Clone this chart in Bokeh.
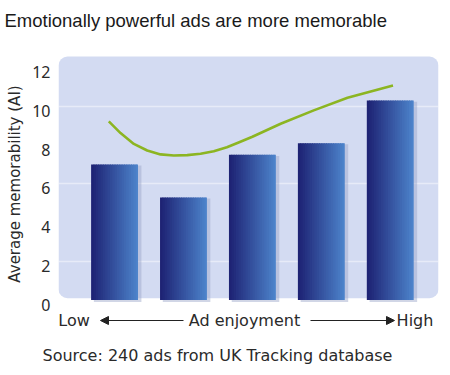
import math
from bokeh.plotting import figure
from bokeh.models import (Range1d, LinearAxis, FixedTicker, BoxAnnotation, Label,
                          Arrow, NormalHead, Title)
from bokeh.embed import file_html
from bokeh.resources import INLINE

# ---------------- data ----------------
categories = ["1", "2", "3", "4", "5"]          # Low -> High ad enjoyment
bar_x = [1, 2, 3, 4, 5]
memorability = [7.0, 5.3, 7.5, 8.1, 10.3]
trend_x = [0.917, 1.087, 1.28, 1.474, 1.667, 1.86, 2.055, 2.248, 2.44, 2.63, 2.80,
           3.00, 3.41, 3.89, 4.38, 5.04]
trend_y = [9.22, 8.62, 8.06, 7.72, 7.52, 7.46, 7.48, 7.55, 7.68, 7.89, 8.13,
           8.43, 9.10, 9.79, 10.44, 11.08]
y_ticks = [0, 2, 4, 6, 8, 10, 12]

title_text = "Emotionally powerful ads are more memorable"
y_label = "Average memorability (AI)"
source_text = "Source:  240 ads from UK Tracking database"
x_words = ["Low", "Ad enjoyment", "High"]

Y0, Y1 = -1.827, 13.81
PANEL_TOP = 12.57

# ---------------- figure ----------------
p = figure(width=450, height=375, output_backend="svg", toolbar_location=None,
           x_range=Range1d(0.187, 5.70), y_range=Range1d(Y0, Y1),
           min_border_left=58, min_border_right=12, min_border_top=32, min_border_bottom=40,
           x_axis_location=None, y_axis_location=None)
p.outline_line_color = None
p.background_fill_color = "white"
p.border_fill_color = "white"
p.xgrid.visible = False

# tick-label axis (labels sit slightly below their grid positions in the original)
p.extra_y_ranges = {"lbl": Range1d(Y0 + 0.24, Y1 + 0.24)}
ax = LinearAxis(y_range_name="lbl", ticker=FixedTicker(ticks=y_ticks))
ax.axis_line_color = None
ax.major_tick_line_color = None
ax.minor_tick_line_color = None
ax.major_tick_out = 0
ax.major_tick_in = 0
ax.minor_tick_out = 0
ax.minor_tick_in = 0
ax.major_label_standoff = 8
ax.major_label_text_font = "Noto Sans"
ax.major_label_text_font_size = "16px"
ax.major_label_text_color = "#2a2a2a"
ax.axis_label = y_label
ax.axis_label_standoff = 5
ax.axis_label_text_font = "DejaVu Sans"
ax.axis_label_text_font_style = "normal"
ax.axis_label_text_font_size = "15px"
ax.axis_label_text_color = "#2a2a2a"
p.add_layout(ax, "left")

# titles
t = Title(text=title_text, align="left", offset=-54, vertical_align="top", standoff=0,
          text_font="Liberation Sans", text_font_size="18.5px", text_font_style="normal",
          text_color="#1a1a1a")
p.add_layout(t, "above")
s = Title(text=source_text, align="left", offset=-16, vertical_align="middle", standoff=19,
          text_font="DejaVu Sans", text_font_size="16px", text_font_style="normal",
          text_color="#2a2a2a")
p.add_layout(s, "below")

# panel
panel = BoxAnnotation(bottom=0.1, top=PANEL_TOP, fill_color="#d3dbf2", fill_alpha=1.0,
                      line_color=None, level="image", border_radius=9)
p.add_layout(panel)

p.ygrid.ticker = FixedTicker(ticks=[2, 6, 10])
p.ygrid.grid_line_color = "white"
p.ygrid.grid_line_alpha = 0.45
p.ygrid.grid_line_width = 1.5

# bars: shadow + gradient strips
bw = 0.68
p.quad(left=[x - bw / 2 + 0.04 for x in bar_x], right=[x + bw / 2 + 0.05 for x in bar_x],
       bottom=[-0.1] * 5, top=[v - 0.06 for v in memorability],
       fill_color="#9aa3c8", fill_alpha=0.45, line_color=None)

c0 = (30, 35, 116)
c1 = (76, 130, 202)
n = 20
L, R, B, T, C = [], [], [], [], []
for x, v in zip(bar_x, memorability):
    for i in range(n):
        tt = i / (n - 1)
        col = tuple(int(round(c0[k] + (c1[k] - c0[k]) * tt)) for k in range(3))
        L.append(x - bw / 2 + bw * i / n)
        R.append(min(x - bw / 2 + bw * (i + 1) / n + 0.015, x + bw / 2))
        B.append(0)
        T.append(v)
        C.append("#%02x%02x%02x" % col)
p.quad(left=L, right=R, bottom=B, top=T, fill_color=C, line_color=None)

# trend line
p.line(trend_x, trend_y, line_color="#8cb522", line_width=2.6, line_join="round")

# ---------------- x-axis caption with arrows ----------------
def px2x(px):
    return 0.187 + (px - 58) / 68.93

def py2y(py):
    return (299.6 - py) / 19.375

bot = py2y(320)
for txt, cx in zip(x_words, [73.5, 244, 414.5]):
    p.add_layout(Label(x=px2x(cx), y=bot, text=txt, text_align="center",
                       text_baseline="middle", text_font="DejaVu Sans",
                       text_font_size="16px", text_color="#2a2a2a"))

p.add_layout(Arrow(end=NormalHead(size=8, fill_color="#222222", line_color="#222222"),
                   x_start=px2x(183), y_start=bot, x_end=px2x(100), y_end=bot,
                   line_color="#222222", line_width=1.2))
p.add_layout(Arrow(end=NormalHead(size=8, fill_color="#222222", line_color="#222222"),
                   x_start=px2x(310), y_start=bot, x_end=px2x(394), y_end=bot,
                   line_color="#222222", line_width=1.2))

open("out.html", "w").write(file_html(p, INLINE))
